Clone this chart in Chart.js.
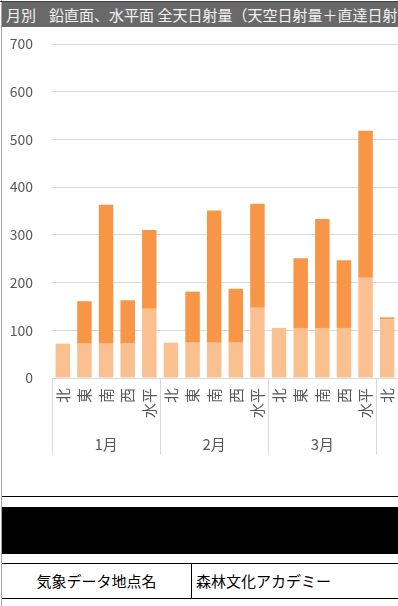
<!DOCTYPE html>
<html>
<head>
<meta charset="utf-8">
<script src="https://cdn.jsdelivr.net/npm/chart.js@4"></script>
<style>
  html, body { margin: 0; padding: 0; width: 398px; height: 606px; overflow: hidden; background: #fff; font-family: "Noto Sans CJK JP", sans-serif; }
  #leftline { position: absolute; left: 1px; top: 0; width: 1px; height: 606px; background: #a6a6a6; }
  #topline { position: absolute; left: 0; top: 1px; width: 398px; height: 1px; background: #404040; }
  #title { position: absolute; left: 2px; top: 2px; width: 396px; height: 25px; background: #696969; color: #f2f2f2; font-size: 15px; line-height: 25px; white-space: nowrap; overflow: hidden; padding-left: 4px; box-sizing: border-box; }
  #title span { margin-left: 13px; }
  #wrap { position: absolute; left: 3px; top: 28px; width: 395px; height: 432px; }
  #line1 { position: absolute; left: 2px; top: 496px; width: 396px; height: 1px; background: #000; }
  #black { position: absolute; left: 2px; top: 507px; width: 396px; height: 47px; background: #000; }
  #table { position: absolute; left: 2px; top: 563px; width: 396px; height: 36px; border-top: 1px solid #000; border-bottom: 1px solid #000; box-sizing: border-box; font-size: 15px; color: #000; }
  #c1 { position: absolute; left: 0; top: 0; width: 189px; height: 34px; border-right: 1px solid #000; text-align: center; line-height: 34px; }
  #c2 { position: absolute; left: 194px; top: 0; height: 34px; line-height: 34px; white-space: nowrap; }
</style>
</head>
<body>
<div id="leftline"></div>
<div id="topline"></div>
<div id="title">月別<span>鉛直面、水平面 全天日射量（天空日射量＋直達日射量）</span></div>
<div id="wrap"><canvas id="chart"></canvas></div>
<div id="line1"></div>
<div id="black"></div>
<div id="table"><div id="c1">気象データ地点名</div><div id="c2">森林文化アカデミー</div></div>
<script>
const categories = ['北','東','南','西','水平','北','東','南','西','水平','北','東','南','西','水平','北'];
const months = ['1月','2月','3月','4月'];
const groupSize = 5;
const diffuse = [72,72,72,72,145, 74,74,74,74,147, 105,105,105,105,210, 123];
const direct  = [0,89,291,91,165, 0,107,277,113,218, 0,146,228,142,308, 4];
const yTicks = [0,100,200,300,400,500,600,700];

const FONT = '"Noto Sans CJK JP", sans-serif';
const groupPlugin = {
  id: 'groups',
  afterDraw(chart) {
    const xs = chart.scales.x;
    const ctx = chart.ctx;
    const cw = xs.getPixelForValue(1) - xs.getPixelForValue(0);
    ctx.save();
    ctx.strokeStyle = '#d9d9d9';
    ctx.lineWidth = 1;
    ctx.fillStyle = '#595959';
    ctx.font = '15px ' + FONT;
    ctx.textAlign = 'center';
    ctx.textBaseline = 'middle';
    months.forEach((m, i) => {
      const start = i * groupSize;
      if (start >= categories.length) return;
      const x0 = Math.round(xs.getPixelForValue(start) - cw / 2) + 0.5;
      ctx.beginPath();
      ctx.moveTo(x0, xs.top);
      ctx.lineTo(x0, 427);
      ctx.stroke();
      const cx = xs.getPixelForValue(start) + (groupSize - 1) / 2 * cw;
      ctx.fillText(m, cx, 416);
    });
    ctx.restore();
  }
};

new Chart(document.getElementById('chart'), {
  type: 'bar',
  data: {
    labels: categories,
    datasets: [
      { label: '天空日射量', data: diffuse, backgroundColor: '#fac090', barPercentage: 0.67, categoryPercentage: 1 },
      { label: '直達日射量', data: direct, backgroundColor: '#f79646', barPercentage: 0.67, categoryPercentage: 1 }
    ]
  },
  options: {
    responsive: true,
    maintainAspectRatio: false,
    animation: false,
    layout: { padding: { top: 16, right: 0, left: 0, bottom: 0 } },
    plugins: { legend: { display: false }, tooltip: { enabled: false } },
    scales: {
      x: {
        stacked: true,
        offset: true,
        grid: { display: false, drawTicks: false },
        border: { display: true, color: '#d9d9d9' },
        ticks: { minRotation: 90, maxRotation: 90, autoSkip: false, padding: 10, color: '#595959', font: { family: FONT, size: 15 } },
        afterFit(s) { s.height = 82; s.paddingLeft = 0; s.paddingRight = 0; }
      },
      y: {
        stacked: true,
        min: 0,
        max: 700,
        afterBuildTicks(s) { s.ticks = yTicks.map(v => ({ value: v })); },
        grid: { color: '#d9d9d9', drawTicks: false },
        border: { display: false },
        ticks: { padding: 19, color: '#595959', font: { family: FONT, size: 14 } },
        afterFit(s) { s.width = 49; s.paddingTop = 0; s.paddingBottom = 0; }
      }
    }
  },
  plugins: [groupPlugin]
});
</script>
</body>
</html>
